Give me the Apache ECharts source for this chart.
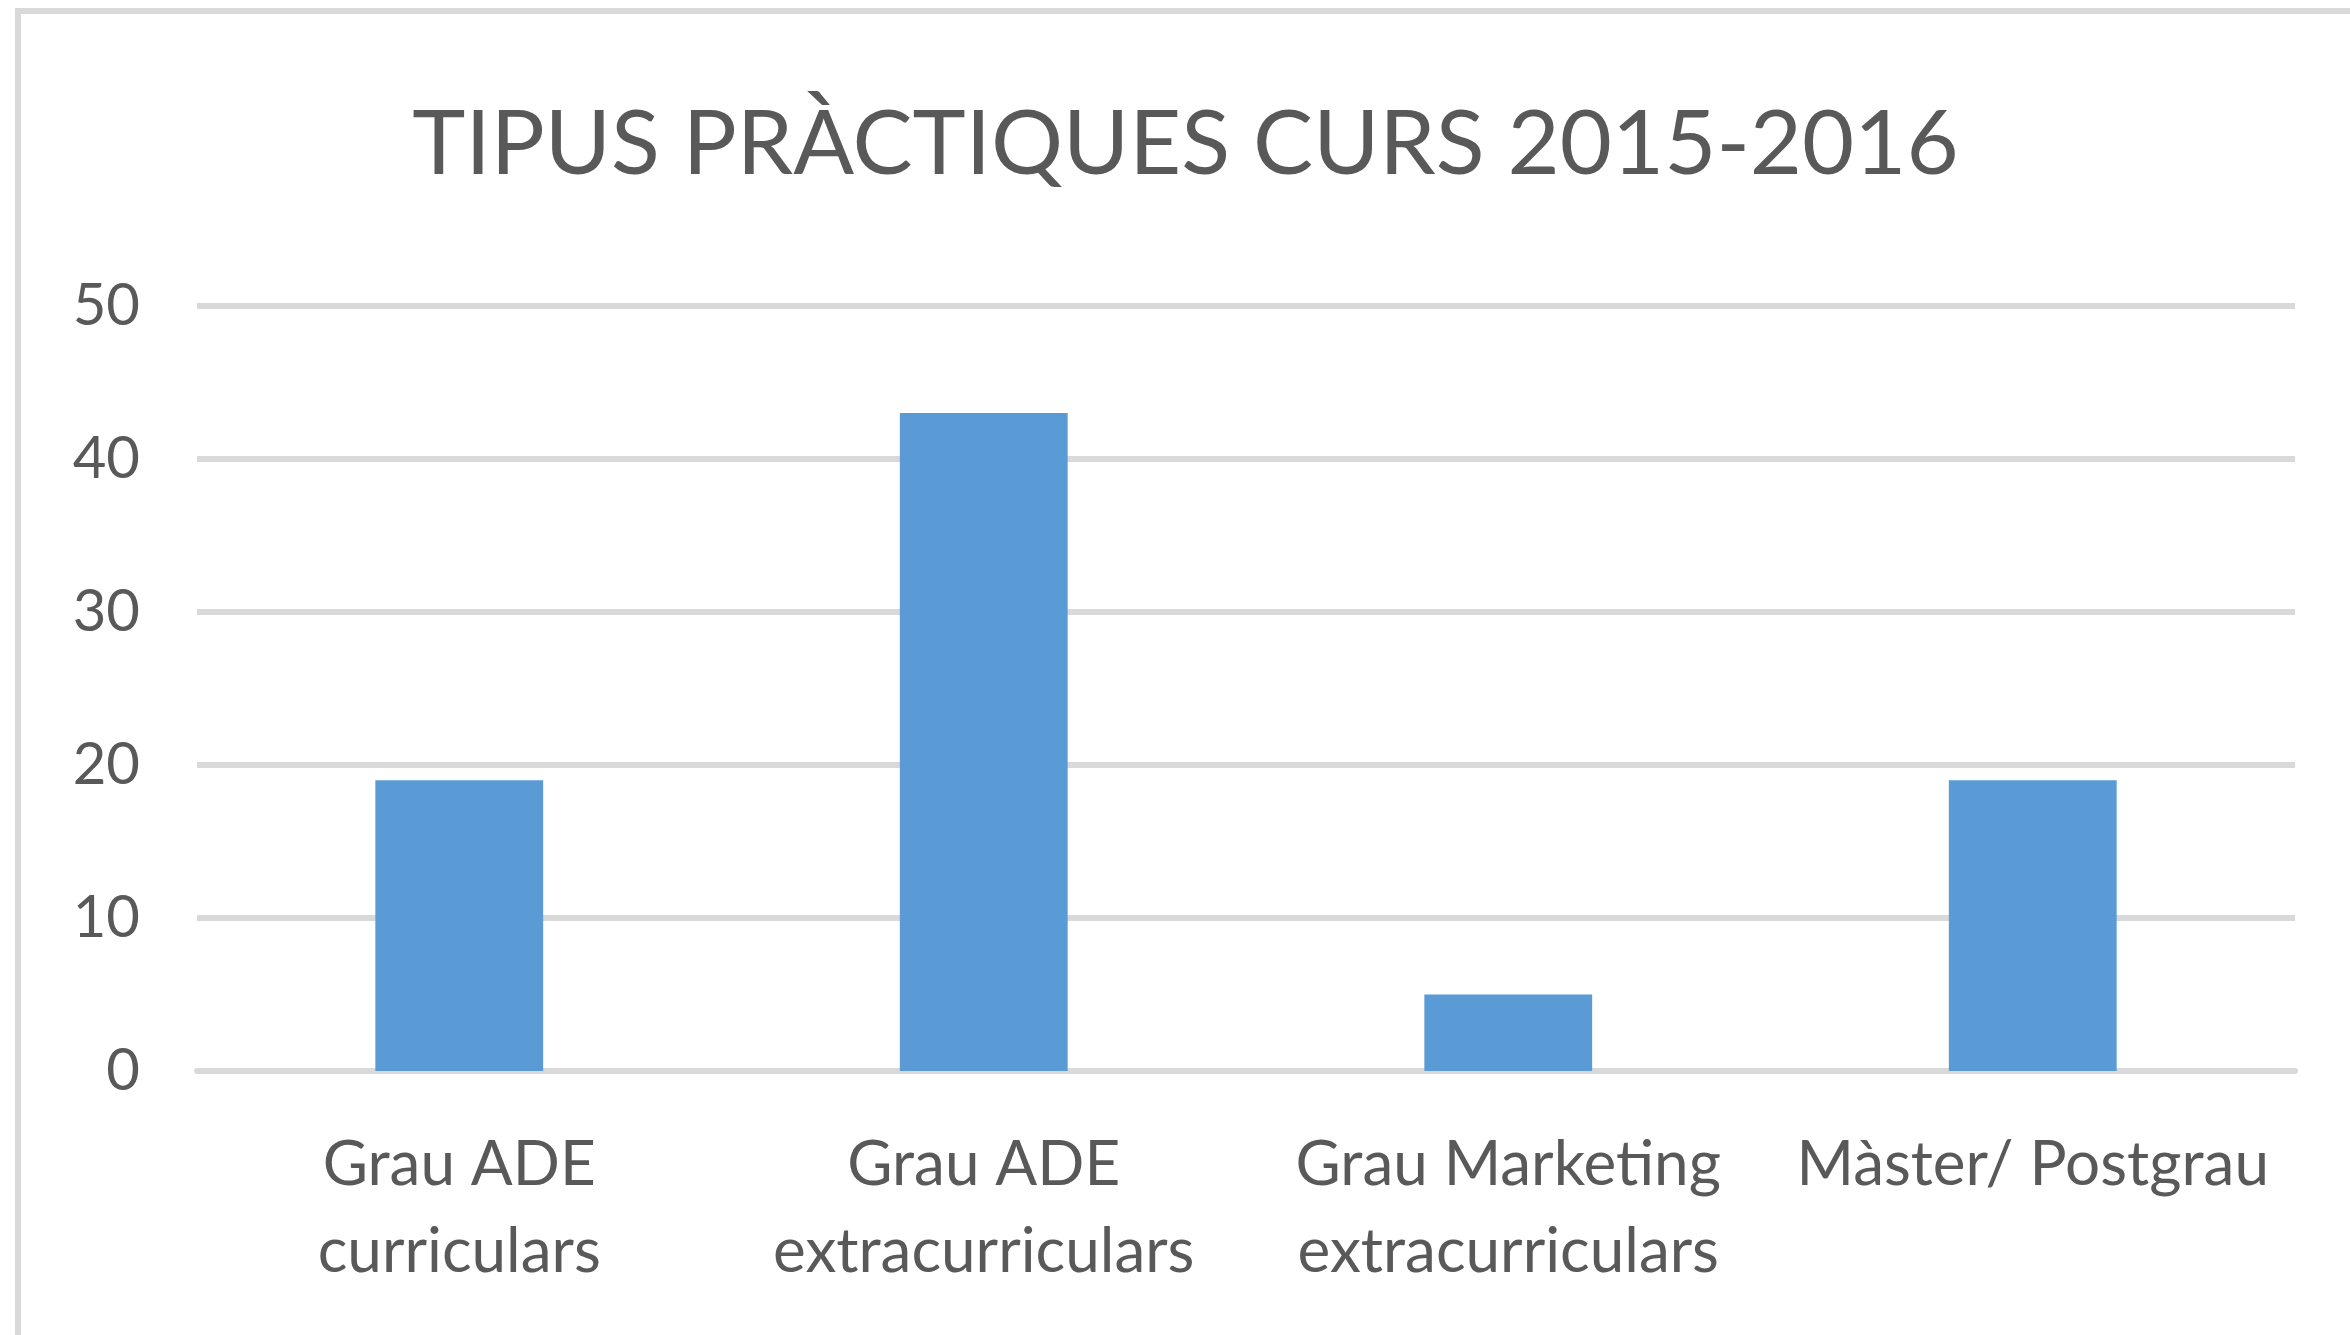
<!DOCTYPE html>
<html>
<head>
<meta charset="utf-8">
<script src="https://cdn.jsdelivr.net/npm/echarts@6/dist/echarts.min.js"></script>
<style>
* { margin: 0; padding: 0; }
body { width: 2350px; height: 1335px; background: #fff; overflow: hidden; position: relative; }
#frame {
  position: absolute; left: 15px; top: 8px;
  width: 2329px; height: 1321px;
  border-left: 6px solid #d9d9d9; border-top: 6px solid #d9d9d9;
}
#mychart { width: 100%; height: 100%; }
</style>
</head>
<body>
<div id="frame"><div id="mychart"></div></div>
<script>
const catName = ["Grau ADE\ncurriculars", "Grau ADE\nextracurriculars", "Grau Marketing\nextracurriculars", "Màster/ Postgrau"]
const catValue = [19, 43, 5, 19]
const yTicks = [0, 10, 20, 30, 40, 50]

var chart = echarts.init(document.getElementById("mychart"));
const option = {
    title: {
        text: 'TIPUS PRÀCTIQUES CURS 2015-2016',
        left: 'center',
        top: 86,
        padding: [0, 0, 0, 20],
        textStyle: {
            fontFamily: 'Lato',
            fontSize: 90,
            fontWeight: 'normal',
            color: '#595959'
        }
    },
    grid: {
        left: 176,
        right: 55,
        top: 292,
        bottom: 264
    },
    xAxis: {
        type: 'category',
        data: catName,
        axisTick: { show: false },
        axisLine: { lineStyle: { color: '#d9d9d9', width: 6 } },
        axisLabel: {
            margin: 50,
            fontFamily: 'Lato',
            fontSize: 62,
            lineHeight: 87,
            color: '#595959',
            interval: 0
        }
    },
    yAxis: {
        type: 'value',
        min: yTicks[0],
        max: yTicks[yTicks.length - 1],
        interval: 10,
        axisLine: { show: false },
        axisTick: { show: false },
        splitLine: { lineStyle: { color: '#d9d9d9', width: 6 } },
        axisLabel: {
            margin: 57,
            fontFamily: 'Lato',
            fontSize: 58,
            color: '#595959'
        }
    },
    series: [
        {
            type: 'bar',
            barWidth: '32%',
            itemStyle: { color: '#5b9bd5' },
            data: catValue
        }
    ]
};
chart.setOption(option);
</script>
</body>
</html>
